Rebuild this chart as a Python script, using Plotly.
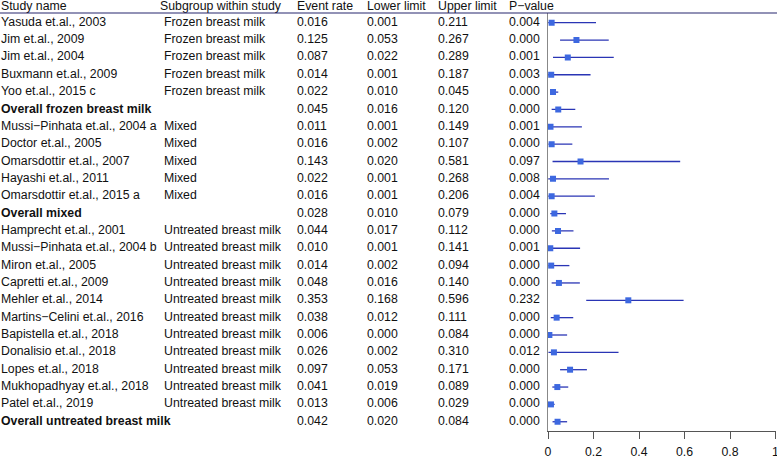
import plotly.graph_objects as go

# ---------------- data ----------------
studies = [
    "Yasuda et.al., 2003", "Jim et.al., 2009", "Jim et.al., 2004", "Buxmann et.al., 2009",
    "Yoo et.al., 2015 c", "Overall frozen breast milk",
    "Mussi\u2212Pinhata et.al., 2004 a", "Doctor et.al., 2005", "Omarsdottir et.al., 2007",
    "Hayashi et.al., 2011", "Omarsdottir et.al., 2015 a", "Overall mixed",
    "Hamprecht et.al., 2001", "Mussi\u2212Pinhata et.al., 2004 b", "Miron et.al., 2005",
    "Capretti et.al., 2009", "Mehler et.al., 2014", "Martins\u2212Celini et.al., 2016",
    "Bapistella et.al., 2018", "Donalisio et.al., 2018", "Lopes et.al., 2018",
    "Mukhopadhyay et.al., 2018", "Patel et.al., 2019", "Overall untreated breast milk",
]
subgroups = (["Frozen breast milk"] * 5 + [""] + ["Mixed"] * 5 + [""]
             + ["Untreated breast milk"] * 11 + [""])
event_rate = [0.016, 0.125, 0.087, 0.014, 0.022, 0.045,
              0.011, 0.016, 0.143, 0.022, 0.016, 0.028,
              0.044, 0.010, 0.014, 0.048, 0.353, 0.038, 0.006, 0.026, 0.097, 0.041, 0.013, 0.042]
lower_limit = [0.001, 0.053, 0.022, 0.001, 0.010, 0.016,
               0.001, 0.002, 0.020, 0.001, 0.001, 0.010,
               0.017, 0.001, 0.002, 0.016, 0.168, 0.012, 0.000, 0.002, 0.053, 0.019, 0.006, 0.020]
upper_limit = [0.211, 0.267, 0.289, 0.187, 0.045, 0.120,
               0.149, 0.107, 0.581, 0.268, 0.206, 0.079,
               0.112, 0.141, 0.094, 0.140, 0.596, 0.111, 0.084, 0.310, 0.171, 0.089, 0.029, 0.084]
p_value = [0.004, 0.000, 0.001, 0.003, 0.000, 0.000,
           0.001, 0.000, 0.097, 0.008, 0.004, 0.000,
           0.000, 0.001, 0.000, 0.000, 0.232, 0.000, 0.000, 0.012, 0.000, 0.000, 0.000, 0.000]
headers = ["Study name", "Subgroup within study", "Event rate", "Lower limit", "Upper limit", "P\u2212value"]
x_ticks = [0, 0.2, 0.4, 0.6, 0.8, 1]
x_ticktext = ["0", "0.2", "0.4", "0.6", "0.8", "1"]

# ---------------- layout geometry ----------------
W, H = 777, 458
ROW0_PX, ROW_STEP = 22.7, 17.35


def row_of_px(px):
    return 1 + (px - ROW0_PX) / ROW_STEP


rows = list(range(1, len(studies) + 1))
header_row = row_of_px(7)
col_x = [1, 160, 297, 367, 438, 509]
sub_x = 164

FONT = "Arial, Liberation Sans, sans-serif"
TXT = "#111111"
FS = 12.3


def fmt(v):
    return f"{v:.3f}"


def bold_if_overall(name, s):
    return f"<b>{s}</b>" if name.startswith("Overall") else s


fig = go.Figure()

columns = [
    ([bold_if_overall(n, n) for n in studies], col_x[0]),
    (subgroups, sub_x),
    ([fmt(v) for v in event_rate], col_x[2]),
    ([fmt(v) for v in lower_limit], col_x[3]),
    ([fmt(v) for v in upper_limit], col_x[4]),
    ([fmt(v) for v in p_value], col_x[5]),
]
for texts, cx in columns:
    fig.add_trace(go.Scatter(
        x=[cx] * len(texts), y=rows, text=texts, mode="text",
        textposition="middle right", textfont=dict(family=FONT, size=FS, color=TXT),
        hoverinfo="skip", showlegend=False, xaxis="x", yaxis="y"))

fig.add_trace(go.Scatter(
    x=col_x, y=[header_row] * len(headers), text=headers, mode="text",
    textposition="middle right", textfont=dict(family=FONT, size=FS, color=TXT),
    hoverinfo="skip", showlegend=False, xaxis="x", yaxis="y"))

# forest plot
fig.add_trace(go.Scatter(
    x=event_rate, y=rows, mode="markers",
    marker=dict(symbol="square", size=6, color="#3d68e0"),
    error_x=dict(type="data", symmetric=False,
                 array=[u - e for u, e in zip(upper_limit, event_rate)],
                 arrayminus=[e - l for e, l in zip(event_rate, lower_limit)],
                 color="#2a35b5", thickness=1.3, width=0),
    showlegend=False, xaxis="x2", yaxis="y2"))

axis_top_px, axis_bot_px = 13, 431
fig.update_layout(
    width=W, height=H, autosize=False,
    margin=dict(l=0, r=0, t=0, b=0, pad=0),
    paper_bgcolor="white", plot_bgcolor="rgba(0,0,0,0)",
    font=dict(family=FONT, size=12, color=TXT),
    xaxis=dict(domain=[0, 1], range=[0, W], visible=False, automargin=False),
    yaxis=dict(domain=[0, 1], range=[row_of_px(H), row_of_px(0)], visible=False,
               autorange=False, automargin=False),
    xaxis2=dict(domain=[548 / W, 775.5 / W], range=[0, 1], anchor="y2",
                tickvals=x_ticks, ticktext=x_ticktext, showline=True,
                linecolor="#555555", linewidth=1, ticks="outside", ticklen=7,
                tickcolor="#555555", showgrid=False, zeroline=False, automargin=False,
                tickfont=dict(family=FONT, size=12.3, color=TXT), ticklabelstandoff=2,
                ticklabeloverflow="allow"),
    yaxis2=dict(domain=[1 - axis_bot_px / H, 1 - axis_top_px / H],
                range=[row_of_px(axis_bot_px), row_of_px(axis_top_px)], autorange=False,
                anchor="x2", showline=True, linecolor="#888888", linewidth=1, automargin=False,
                showticklabels=False, ticks="", showgrid=False, zeroline=False),
    shapes=[dict(type="line", xref="paper", yref="y", x0=0, x1=1,
                 y0=row_of_px(axis_top_px), y1=row_of_px(axis_top_px),
                 line=dict(color="#26266e", width=1.2))],
)

post = """
(function(){
  var s = document.createElement('style');
  s.textContent = 'html,body{margin:0;padding:0;width:777px;height:458px;overflow:hidden;}'
    + '.plotly-graph-div{overflow:hidden;width:777px;height:458px;}';
  document.head.appendChild(s);
})();
"""
fig.write_html("out.html", config={"displayModeBar": False, "staticPlot": True},
               post_script=post)
